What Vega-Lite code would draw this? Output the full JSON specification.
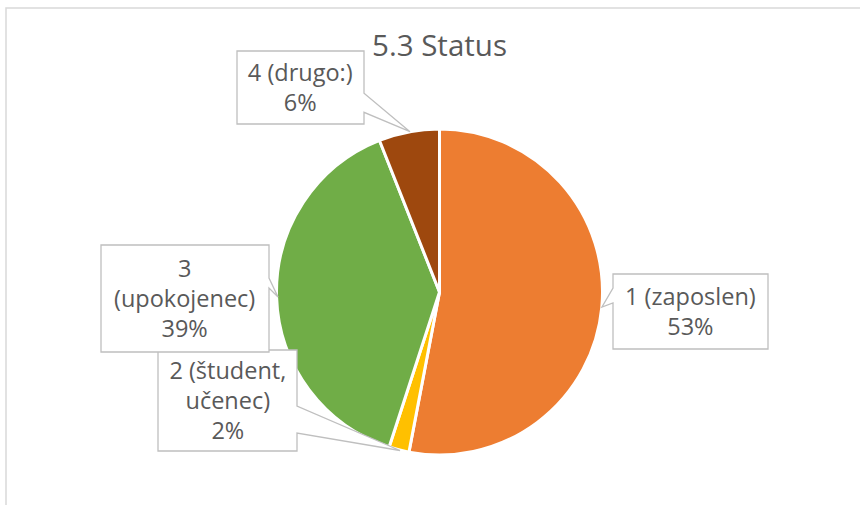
{
  "$schema": "https://vega.github.io/schema/vega-lite/v6.json",
  "autosize": {"type": "none"},
  "padding": {"left": 6, "top": 8, "right": -13, "bottom": -71},
  "width": 867,
  "height": 568,
  "background": "white",
  "config": {
    "view": {"stroke": null},
    "font": "Open Sans"
  },
  "title": {
    "text": "5.3 Status",
    "fontSize": 29.5,
    "font": "Open Sans",
    "fontWeight": "normal",
    "color": "#595959",
    "anchor": "middle",
    "baseline": "alphabetic",
    "offset": -78
  },
  "data": {
    "values": [
      {"id": 1, "status": "1 (zaposlen)", "value": 53, "label": "1 (zaposlen)\n53%"},
      {"id": 2, "status": "2 (študent, učenec)", "value": 2, "label": "2 (študent,\nučenec)\n2%"},
      {"id": 3, "status": "3 (upokojenec)", "value": 39, "label": "3\n(upokojenec)\n39%"},
      {"id": 4, "status": "4 (drugo:)", "value": 6, "label": "4 (drugo:)\n6%"}
    ]
  },
  "transform": [
    {"stack": "value", "groupby": [], "sort": [{"field": "id", "order": "ascending"}], "as": ["v0", "v1"]},
    {"calculate": "(datum.v0 + datum.v1) / 2", "as": "mid"}
  ],
  "layer": [
    {
      "transform": [{"filter": "datum.id == 1"}],
      "mark": {"type": "rect", "fill": null, "fillOpacity": 0, "stroke": "#d9d9d9", "strokeWidth": 1.5},
      "encoding": {}
    },
    {
      "mark": {"type": "arc", "outerRadius": 163, "stroke": "white", "strokeWidth": 3},
      "encoding": {
        "theta": {"field": "v0", "type": "quantitative", "stack": null, "scale": {"domain": [0, 100]}},
        "theta2": {"field": "v1"},
        "color": {
          "field": "status", "type": "nominal", "legend": null,
          "scale": {
            "domain": ["1 (zaposlen)", "2 (študent, učenec)", "3 (upokojenec)", "4 (drugo:)"],
            "range": ["#ED7D31", "#FFC000", "#70AD47", "#9E480E"]
          }
        }
      }
    },
    {
      "mark": {"type": "point", "filled": true, "fill": "white", "stroke": "#bfbfbf", "strokeWidth": 1.3, "size": 4, "opacity": 1, "fillOpacity": 1, "strokeOpacity": 1},
      "encoding": {
        "shape": {
          "field": "status", "type": "nominal", "legend": null,
          "scale": {
            "domain": ["1 (zaposlen)", "2 (študent, učenec)", "3 (upokojenec)", "4 (drugo:)"],
            "range": [
              "M173.5,-18 H328.5 V57 H173.5 V11 L162.5,15 L173.5,-4 Z",
              "M-281.5,58 H-142.5 V114 L-39.5,158.5 L-142.5,141 V159 H-281.5 Z",
              "M-338.5,-47 H-170.5 V-14 L-161.5,5 L-170.5,-4 V60 H-338.5 Z",
              "M-202.5,-241 H-75.5 V-198.7 L-29.5,-160.3 L-75.5,-179.7 V-168 H-202.5 Z"
            ]
          }
        }
      }
    },
    {
      "transform": [{"filter": "datum.id == 1"}],
      "mark": {"type": "text", "radius": 252, "dx": 0, "dy": -18, "font": "Open Sans", "fontSize": 23.5, "color": "#595959", "fill": "#595959", "align": "center", "baseline": "middle", "lineBreak": "\n", "lineHeight": 30},
      "encoding": {"theta": {"field": "mid", "type": "quantitative", "stack": null}, "text": {"field": "label"}}
    },
    {
      "transform": [{"filter": "datum.id == 2"}],
      "mark": {"type": "text", "radius": 252, "dx": -149, "dy": -164, "font": "Open Sans", "fontSize": 23.5, "color": "#595959", "fill": "#595959", "align": "center", "baseline": "middle", "lineBreak": "\n", "lineHeight": 30},
      "encoding": {"theta": {"field": "mid", "type": "quantitative", "stack": null}, "text": {"field": "label"}}
    },
    {
      "transform": [{"filter": "datum.id == 3"}],
      "mark": {"type": "text", "radius": 252, "dx": -3, "dy": -30, "font": "Open Sans", "fontSize": 23.5, "color": "#595959", "fill": "#595959", "align": "center", "baseline": "middle", "lineBreak": "\n", "lineHeight": 30},
      "encoding": {"theta": {"field": "mid", "type": "quantitative", "stack": null}, "text": {"field": "label"}}
    },
    {
      "transform": [{"filter": "datum.id == 4"}],
      "mark": {"type": "text", "radius": 252, "dx": -92, "dy": 30, "font": "Open Sans", "fontSize": 23.5, "color": "#595959", "fill": "#595959", "align": "center", "baseline": "middle", "lineBreak": "\n", "lineHeight": 30},
      "encoding": {"theta": {"field": "mid", "type": "quantitative", "stack": null}, "text": {"field": "label"}}
    }
  ]
}
